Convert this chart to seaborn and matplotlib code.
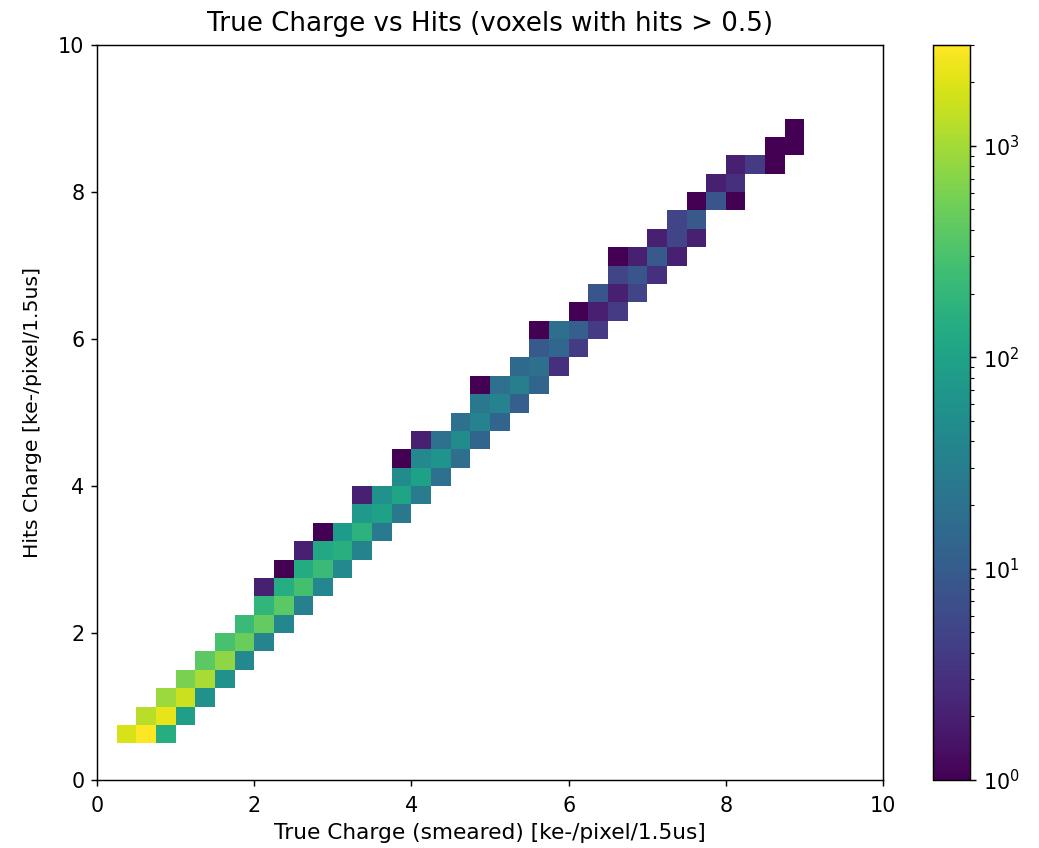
import numpy as np
import pandas as pd
import matplotlib
matplotlib.use("Agg")
import matplotlib.pyplot as plt
from matplotlib.colors import LogNorm
import seaborn as sns

# Bin centres (bin width 0.25) of occupied cells and their counts
hits_charge = [
    0.625, 0.625, 0.625,
    0.875, 0.875, 0.875,
    1.125, 1.125, 1.125,
    1.375, 1.375, 1.375,
    1.625, 1.625, 1.625,
    1.875, 1.875, 1.875,
    2.125, 2.125, 2.125,
    2.375, 2.375, 2.375,
    2.625, 2.625, 2.625, 2.625,
    2.875, 2.875, 2.875, 2.875,
    3.125, 3.125, 3.125, 3.125,
    3.375, 3.375, 3.375, 3.375,
    3.625, 3.625, 3.625,
    3.875, 3.875, 3.875, 3.875,
    4.125, 4.125, 4.125,
    4.375, 4.375, 4.375, 4.375,
    4.625, 4.625, 4.625, 4.625,
    4.875, 4.875, 4.875,
    5.125, 5.125, 5.125,
    5.375, 5.375, 5.375, 5.375,
    5.625, 5.625, 5.625,
    5.875, 5.875, 5.875,
    6.125, 6.125, 6.125, 6.125,
    6.375, 6.375, 6.375,
    6.625, 6.625, 6.625,
    6.875, 6.875, 6.875,
    7.125, 7.125, 7.125, 7.125,
    7.375, 7.375, 7.375,
    7.625, 7.625,
    7.875, 7.875, 7.875,
    8.125, 8.125,
    8.375, 8.375, 8.375,
    8.625, 8.625,
    8.875,
]
true_charge = [
    0.375, 0.625, 0.875,
    0.625, 0.875, 1.125,
    0.875, 1.125, 1.375,
    1.125, 1.375, 1.625,
    1.375, 1.625, 1.875,
    1.625, 1.875, 2.125,
    1.875, 2.125, 2.375,
    2.125, 2.375, 2.625,
    2.125, 2.375, 2.625, 2.875,
    2.375, 2.625, 2.875, 3.125,
    2.625, 2.875, 3.125, 3.375,
    2.875, 3.125, 3.375, 3.625,
    3.375, 3.625, 3.875,
    3.375, 3.625, 3.875, 4.125,
    3.875, 4.125, 4.375,
    3.875, 4.125, 4.375, 4.625,
    4.125, 4.375, 4.625, 4.875,
    4.625, 4.875, 5.125,
    4.875, 5.125, 5.375,
    4.875, 5.125, 5.375, 5.625,
    5.375, 5.625, 5.875,
    5.625, 5.875, 6.125,
    5.625, 5.875, 6.125, 6.375,
    6.125, 6.375, 6.625,
    6.375, 6.625, 6.875,
    6.625, 6.875, 7.125,
    6.625, 6.875, 7.125, 7.375,
    7.125, 7.375, 7.625,
    7.375, 7.625,
    7.625, 7.875, 8.125,
    7.875, 8.125,
    8.125, 8.375, 8.625,
    8.625, 8.875,
    8.875,
]
counts = [
    1850, 3000, 143,
    1250, 2200, 90,
    900, 1600, 60,
    600, 1050, 55,
    400, 770, 43,
    290, 475, 37,
    230, 440, 39,
    190, 390, 32,
    2, 143, 272, 40,
    1, 133, 230, 43,
    2, 122, 155, 36,
    1, 81, 170, 26,
    76, 96, 25,
    2, 55, 107, 28,
    47, 96, 19,
    1, 43, 64, 18,
    2, 19, 47, 13,
    19, 35, 13,
    25, 34, 11,
    1, 19, 31, 13,
    15, 18, 3,
    9, 14, 4,
    1, 18, 11, 4,
    1, 2, 4,
    8, 2, 5,
    5, 8, 3,
    1, 2, 9, 2,
    2, 5, 2,
    5, 9,
    1, 8, 1,
    2, 3,
    2, 4, 1,
    1, 1,
    1,
]

df = pd.DataFrame({"true": true_charge, "hits": hits_charge, "n": counts})

fig = plt.figure(figsize=(1039 / 130, 848 / 130), dpi=130)
ax = fig.add_axes([97 / 1039, 68 / 848, 786 / 1039, 735 / 848])
cax = fig.add_axes([933 / 1039, 68 / 848, 37 / 1039, 735 / 848])

sns.histplot(
    data=df, x="true", y="hits", weights="n",
    binwidth=0.25, binrange=((0, 10), (0, 10)),
    cmap="viridis", cbar=False, ax=ax,
)

mesh = ax.collections[0]
mesh.set_norm(LogNorm(vmin=1, vmax=max(counts)))
cb = fig.colorbar(mesh, cax=cax)
cb.ax.tick_params(labelsize=11.5)

ax.set_xlim(0, 10)
ax.set_ylim(0, 10)
ax.set_xticks([0, 2, 4, 6, 8, 10])
ax.set_yticks([0, 2, 4, 6, 8, 10])
ax.tick_params(labelsize=11.5)
ax.tick_params(axis="x", pad=5.5)
ax.set_xlabel("True Charge (smeared) [ke-/pixel/1.5us]", fontsize=12, labelpad=4)
ax.set_ylabel("Hits Charge [ke-/pixel/1.5us]", fontsize=11.3, labelpad=9)
ax.set_title("True Charge vs Hits (voxels with hits > 0.5)", fontsize=14.5, pad=8)

fig.savefig("out.png", dpi=130)
